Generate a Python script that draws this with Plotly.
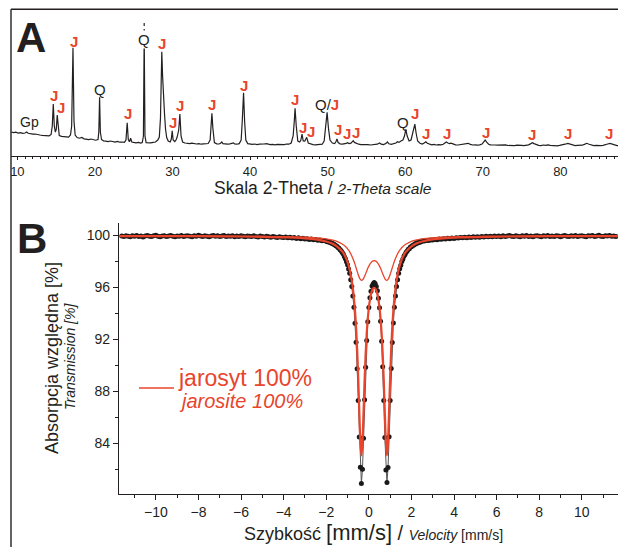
import plotly.graph_objects as go

# The page places the figure 8 px from the top-left corner; reference pixel
# coordinates are converted with that offset.
OX, OY = 8, 8
W, H = 618, 539
RED = "#e8452c"
INK = "#231f20"
FONT = "Liberation Sans, Arial, Helvetica, sans-serif"

# ---------------- Panel A: XRD pattern (2-theta, counts) ----------------
xrd_points = [
    (9.2, 240), (9.5, 234), (9.8, 238), (10.1, 230), (10.4, 233), (10.7, 227), (11.0, 230), (11.2, 240),
    (11.4, 228), (11.7, 222), (12.0, 218), (12.3, 220), (12.6, 212), (12.9, 210), (13.2, 206), (13.5, 204),
    (13.8, 200), (14.1, 202), (14.35, 215), (14.5, 300), (14.63, 520), (14.76, 300), (14.9, 240), (15.02, 270),
    (15.14, 410), (15.26, 260), (15.4, 205), (15.7, 196), (16.0, 192), (16.3, 186), (16.6, 188), (16.85, 210),
    (17.0, 300), (17.17, 1083), (17.3, 350), (17.45, 210), (17.7, 185), (18.0, 178), (18.3, 186), (18.6, 172),
    (18.9, 168), (19.2, 164), (19.5, 170), (19.8, 160), (20.1, 158), (20.4, 165), (20.5, 240), (20.6, 587),
    (20.7, 240), (20.85, 165), (21.1, 152), (21.4, 148), (21.7, 144), (22.0, 150), (22.3, 142), (22.6, 140),
    (22.9, 146), (23.2, 138), (23.5, 140), (23.8, 136), (24.0, 160), (24.16, 333), (24.3, 165), (24.45, 142),
    (24.6, 178), (24.75, 140), (25.0, 136), (25.3, 132), (25.6, 136), (25.9, 130), (26.1, 134), (26.25, 200),
    (26.35, 1230), (26.45, 200), (26.6, 134), (26.9, 130), (27.2, 132), (27.5, 136), (27.8, 140), (28.1, 160),
    (28.3, 190), (28.45, 380), (28.55, 800), (28.62, 1043), (28.72, 800), (28.85, 520), (28.97, 420), (29.1, 270),
    (29.25, 185), (29.45, 150), (29.7, 140), (29.85, 170), (29.96, 253), (30.08, 160), (30.3, 145), (30.45, 160),
    (30.6, 190), (30.8, 260), (30.95, 420), (31.1, 200), (31.3, 140), (31.6, 130), (31.9, 126), (32.2, 124),
    (32.5, 128), (32.8, 122), (33.1, 120), (33.4, 124), (33.7, 118), (34.0, 122), (34.3, 120), (34.6, 125),
    (34.85, 160), (35.0, 300), (35.08, 427), (35.2, 280), (35.4, 135), (35.7, 122), (36.0, 120), (36.2, 128),
    (36.35, 140), (36.5, 124), (36.8, 120), (37.1, 118), (37.4, 122), (37.7, 126), (37.85, 132), (38.0, 120),
    (38.3, 118), (38.6, 124), (38.85, 160), (39.0, 360), (39.16, 633), (39.3, 340), (39.45, 160), (39.7, 124),
    (40.0, 118), (40.3, 116), (40.6, 120), (40.9, 114), (41.2, 118), (41.5, 116), (41.8, 120), (42.1, 124),
    (42.3, 118), (42.6, 114), (42.9, 116), (43.2, 112), (43.5, 116), (43.8, 114), (44.1, 118), (44.4, 114),
    (44.7, 120), (45.0, 118), (45.3, 130), (45.55, 200), (45.7, 350), (45.8, 477), (45.95, 300), (46.15, 150),
    (46.4, 140), (46.55, 160), (46.7, 220), (46.85, 150), (47.05, 148), (47.3, 187), (47.5, 130), (47.8, 118),
    (48.1, 114), (48.4, 112), (48.7, 116), (49.0, 114), (49.3, 118), (49.55, 150), (49.75, 300), (49.93, 437),
    (50.1, 280), (50.3, 160), (50.6, 130), (50.9, 124), (51.05, 140), (51.2, 170), (51.35, 135), (51.6, 122),
    (51.9, 118), (52.2, 120), (52.4, 126), (52.56, 133), (52.75, 124), (53.0, 128), (53.15, 140), (53.3, 153),
    (53.45, 136), (53.7, 124), (54.0, 118), (54.3, 114), (54.6, 116), (54.9, 112), (55.2, 114), (55.5, 110),
    (55.8, 114), (56.1, 112), (56.4, 118), (56.7, 130), (56.9, 118), (57.2, 114), (57.5, 124), (57.7, 140),
    (57.9, 122), (58.2, 116), (58.5, 122), (58.8, 130), (59.0, 143), (59.2, 136), (59.45, 150), (59.7, 160),
    (59.9, 200), (60.08, 267), (60.25, 200), (60.5, 150), (60.75, 160), (60.95, 220), (61.1, 280), (61.24, 320),
    (61.4, 230), (61.6, 150), (61.9, 128), (62.2, 120), (62.45, 130), (62.66, 143), (62.85, 128), (63.1, 118),
    (63.4, 112), (63.7, 116), (64.0, 110), (64.3, 114), (64.6, 112), (64.9, 118), (65.1, 130), (65.3, 140),
    (65.5, 130), (65.7, 124), (65.9, 128), (66.2, 116), (66.5, 112), (66.8, 110), (67.1, 114), (67.4, 112),
    (67.7, 116), (68.1, 127), (68.4, 116), (68.7, 110), (69.0, 112), (69.3, 108), (69.6, 112), (69.9, 120),
    (70.1, 140), (70.3, 160), (70.5, 138), (70.75, 118), (71.0, 112), (71.3, 114), (71.6, 110), (71.9, 108),
    (72.2, 110), (72.5, 106), (72.9, 112), (73.2, 106), (73.5, 104), (73.8, 106), (74.1, 104), (74.4, 108),
    (74.7, 104), (75.0, 106), (75.3, 104), (75.6, 108), (75.9, 112), (76.2, 124), (76.4, 133), (76.6, 124),
    (76.9, 112), (77.2, 106), (77.5, 104), (77.8, 110), (78.1, 106), (78.4, 112), (78.7, 106), (79.0, 104),
    (79.3, 106), (79.6, 102), (79.9, 106), (80.3, 110), (80.6, 118), (80.96, 127), (81.3, 118), (81.6, 108),
    (81.9, 104), (82.2, 106), (82.5, 104), (82.8, 108), (83.1, 116), (83.4, 127), (83.7, 118), (84.0, 108),
    (84.3, 104), (84.6, 106), (84.9, 102), (85.2, 104), (85.5, 106), (85.8, 110), (86.1, 120), (86.4, 127),
    (86.7, 118), (87.0, 108), (87.3, 104), (87.6, 106), (87.9, 102), (88.2, 104), (88.5, 103),
]
xrd_two_theta = [p[0] for p in xrd_points]
xrd_counts = [p[1] for p in xrd_points]

# quartz main reflection runs off scale (dotted continuation)
q_break_two_theta = [26.35, 26.35]
q_break_counts = [1240, 1360]

# phase labels (J = jarosite, Q = quartz, Gp = gypsum)
j_two_theta = [14.72, 15.62, 17.29, 24.25, 28.63, 30.05, 30.95, 35.08, 39.2, 45.77, 46.8, 47.84,
               51.28, 52.47, 53.63, 61.24, 62.66, 65.32, 70.39, 76.31, 80.95, 86.24]
j_counts = [610, 490, 1150, 430, 1130, 340, 510, 520, 710, 570, 290, 250,
            270, 230, 240, 430, 230, 230, 240, 220, 230, 230]
other_text = ["Gp", "Q", "Q", "Q/<b><span style='color:%s'>J</span></b>" % RED, "Q"]
other_two_theta = [11.62, 20.64, 26.31, 49.9, 59.69]
other_counts = [340, 670, 1170, 520, 340]

# ---------------- Panel B: Mössbauer spectrum ----------------
ms_T_left = [
    99.93, 99.88, 99.95, 99.90, 99.86, 99.94, 99.91, 99.97, 99.89, 99.92,
    99.85, 99.93, 99.96, 99.90, 99.88, 99.94, 99.99, 99.91, 99.87, 99.93,
    99.95, 99.89, 99.92, 99.97, 99.90, 99.86, 99.93, 99.91, 99.96, 99.88,
    99.92, 99.95, 99.90, 99.87, 99.94, 99.91, 99.98, 99.92, 99.88, 99.95,
    99.91, 99.86, 99.93, 99.97, 99.90, 99.94, 99.89, 99.92, 99.96, 99.88,
    99.93, 99.90, 99.95, 99.87, 99.92, 99.89, 99.94, 99.90, 99.86, 99.93,
    99.91, 99.88, 99.94, 99.89, 99.85, 99.92, 99.88, 99.84, 99.90, 99.86,
    99.83, 99.89, 99.85, 99.81, 99.87, 99.83, 99.80, 99.85, 99.79, 99.82,
    99.77, 99.80, 99.74, 99.78, 99.72, 99.75, 99.70, 99.72, 99.66, 99.69,
    99.64, 99.65, 99.60, 99.62, 99.56, 99.57,
]
ms_T_mid = [
    99.52, 99.49, 99.48, 99.44, 99.42, 99.37, 99.34, 99.28, 99.25, 99.17,
    99.13, 99.04, 98.98, 98.87, 98.79, 98.65, 98.53, 98.35, 98.18, 97.94,
    97.71, 97.38, 97.05, 96.56, 96.04, 95.30, 94.44, 93.22, 91.75, 89.72,
    87.28, 84.47, 82.13, 80.88, 81.98, 84.37, 87.33, 89.82, 91.88, 93.32,
    94.42, 95.17, 95.68, 96.07, 96.24, 96.34, 96.26, 96.03, 95.72, 95.13,
    94.41, 93.37, 91.83, 89.87, 87.27, 84.42, 81.93, 80.97, 82.12, 84.48,
    87.27, 89.73, 91.74, 93.23, 94.44, 95.30, 96.04, 96.56, 97.05, 97.41,
    97.68, 97.97, 98.15, 98.38, 98.50, 98.68, 98.76, 98.90, 98.95, 99.07,
    99.10, 99.20, 99.22, 99.31, 99.31, 99.40, 99.39, 99.47, 99.45, 99.52,
    99.51,
]
ms_T_right = [
    99.54, 99.58, 99.57, 99.62, 99.61, 99.66, 99.64, 99.69, 99.67, 99.72,
    99.70, 99.75, 99.72, 99.77, 99.74, 99.79, 99.76, 99.81, 99.78, 99.83,
    99.79, 99.84, 99.80, 99.86, 99.82, 99.87, 99.83, 99.89, 99.85, 99.90,
    99.86, 99.91, 99.87, 99.93, 99.88, 99.92, 99.86, 99.94, 99.89, 99.93,
    99.97, 99.90, 99.88, 99.95, 99.91, 99.87, 99.94, 99.90, 99.96, 99.89,
    99.93, 99.86, 99.92, 99.95, 99.90, 99.87, 99.94, 99.91, 99.97, 99.89,
    99.93, 99.88, 99.95, 99.92, 99.86, 99.93, 99.96, 99.90, 99.88, 99.94,
    99.91, 99.97, 99.89, 99.93, 99.95, 99.90, 99.87, 99.94, 99.92, 99.96,
    99.89, 99.93, 99.98, 99.91, 99.88, 99.94, 99.92, 99.96, 99.90, 99.93,
    99.89,
]
ms_v_left = [round(-11.6 + 0.1 * i, 2) for i in range(len(ms_T_left))]
ms_v_mid = [round(-2.0 + 0.05 * i, 2) for i in range(len(ms_T_mid))]
ms_v_right = [round(2.6 + 0.1 * i, 2) for i in range(len(ms_T_right))]
ms_velocity = ms_v_left + ms_v_mid + ms_v_right
ms_transmission = ms_T_left + ms_T_mid + ms_T_right

fit_velocity = ([-11.7, -9, -7, -5, -4, -3.5, -3, -2.5, -2.0, -1.75, -1.5]
                + [round(-1.25 + 0.05 * i, 2) for i in range(61)]
                + [2.0, 2.25, 2.5, 3.0, 3.5, 4.0, 4.5, 5.5, 7.5, 9.5, 11.7])
fit_total = [
    99.92, 99.91, 99.90, 99.86, 99.82, 99.79, 99.74, 99.66, 99.50, 99.36, 99.13,
    98.73, 98.62, 98.48, 98.32, 98.14, 97.92, 97.66, 97.35, 96.96, 96.49,
    95.90, 95.15, 94.18, 92.92, 91.25, 89.10, 86.53, 84.12, 83.04, 84.03,
    86.34, 88.82, 90.87, 92.43, 93.57, 94.41, 95.01, 95.44, 95.72, 95.88,
    95.93, 95.88, 95.72, 95.44, 95.01, 94.41, 93.57, 92.43, 90.87, 88.82,
    86.34, 84.03, 83.04, 84.12, 86.53, 89.10, 91.25, 92.92, 94.18, 95.15,
    95.90, 96.49, 96.96, 97.35, 97.66, 97.92, 98.14, 98.32, 98.48, 98.62,
    98.73,
    99.13, 99.36, 99.50, 99.66, 99.74, 99.79, 99.82, 99.86, 99.90, 99.91, 99.92,
]
fit_doublet2 = [
    99.92, 99.92, 99.91, 99.89, 99.87, 99.86, 99.83, 99.78, 99.70, 99.62, 99.51,
    99.31, 99.25, 99.19, 99.12, 99.04, 98.94, 98.83, 98.70, 98.56, 98.39,
    98.20, 97.98, 97.74, 97.48, 97.22, 96.96, 96.74, 96.59, 96.52, 96.54,
    96.65, 96.82, 97.02, 97.23, 97.44, 97.61, 97.76, 97.88, 97.96, 98.01,
    98.02, 98.01, 97.96, 97.88, 97.76, 97.61, 97.44, 97.23, 97.02, 96.82,
    96.65, 96.54, 96.52, 96.59, 96.74, 96.96, 97.22, 97.48, 97.74, 97.98,
    98.20, 98.39, 98.56, 98.70, 98.83, 98.94, 99.04, 99.12, 99.19, 99.25,
    99.31,
    99.51, 99.62, 99.70, 99.78, 99.83, 99.86, 99.87, 99.89, 99.91, 99.92, 99.92,
]


def fx(x):
    return (x - OX) / W


def fy(y):
    return 1 - (y - OY) / H


fig = go.Figure()

# --- A traces
fig.add_trace(go.Scatter(x=xrd_two_theta, y=xrd_counts, mode="lines",
                         line=dict(color=INK, width=1.2), xaxis="x", yaxis="y",
                         hoverinfo="skip"))
fig.add_trace(go.Scatter(x=q_break_two_theta, y=q_break_counts, mode="lines",
                         line=dict(color=INK, width=1.2, dash="dot"), xaxis="x", yaxis="y",
                         hoverinfo="skip"))

# --- B traces
fig.add_trace(go.Scatter(x=ms_velocity, y=ms_transmission, mode="lines+markers",
                         line=dict(color="#555555", width=1),
                         marker=dict(color="#1a1a1a", size=5),
                         xaxis="x2", yaxis="y2", hoverinfo="skip"))
fig.add_trace(go.Scatter(x=fit_velocity, y=fit_doublet2, mode="lines",
                         line=dict(color=RED, width=1.3, shape="spline", smoothing=0.6),
                         xaxis="x2", yaxis="y2", hoverinfo="skip"))
fig.add_trace(go.Scatter(x=fit_velocity, y=fit_total, mode="lines",
                         line=dict(color=RED, width=2.2, shape="spline", smoothing=0.6),
                         xaxis="x2", yaxis="y2", hoverinfo="skip"))

annotations = []
for t, c in zip(j_two_theta, j_counts):
    annotations.append(dict(x=t, y=c, xref="x", yref="y", text="<b>J</b>", showarrow=False,
                            xanchor="center", yanchor="middle",
                            font=dict(size=15, color=RED, family=FONT)))
for txt, t, c in zip(other_text, other_two_theta, other_counts):
    annotations.append(dict(x=t, y=c, xref="x", yref="y", text=txt, showarrow=False,
                            xanchor="center", yanchor="middle",
                            font=dict(size=15 if txt != "Gp" else 14, color=INK, family=FONT),
                            bgcolor="white" if t == 26.31 else None, borderpad=0))


def label(xp, yp, text, size, color=INK, xanchor="center", angle=0):
    return dict(x=fx(xp), y=fy(yp), xref="paper", yref="paper", text=text, showarrow=False,
                xanchor=xanchor, yanchor="middle", textangle=angle,
                font=dict(size=size, color=color, family=FONT))


annotations += [
    label(31, 37, "<b>A</b>", 42),
    label(31.5, 238, "<b>B</b>", 42),
    label(323, 188, "Skala 2-Theta / <i><span style='font-size:15.5px'>2-Theta scale</span></i>", 17.5),
    label(373, 532,
          "<span style='font-size:18px'>Szybkość </span><span style='font-size:22px'>[mm/s]</span>"
          "<span style='font-size:20px'> / </span><i><span style='font-size:14px'>Velocity</span></i>"
          "<span style='font-size:14px'> [mm/s]</span>", 18),
    label(52, 358, "Absorpcja względna [%]", 18, angle=-90),
    label(70, 357, "<i>Transmission [%]</i>", 14, angle=-90),
    label(176, 378, "jarosyt 100%", 23, color=RED, xanchor="left"),
    label(177, 401, "<i>jarosite 100%</i>", 20, color=RED, xanchor="left"),
]

shapes = [
    dict(type="line", xref="paper", yref="paper", x0=fx(11), x1=1, y0=fy(9.3), y1=fy(9.3),
         line=dict(color=INK, width=1.4)),
    dict(type="line", xref="paper", yref="paper", x0=fx(11), x1=fx(11), y0=0, y1=fy(9.3),
         line=dict(color=INK, width=1.4)),
    dict(type="line", xref="paper", yref="paper", x0=fx(139), x1=fx(174), y0=fy(388), y1=fy(388),
         line=dict(color=RED, width=1.5)),
]

tickfont = dict(size=13, color=INK, family=FONT)
tickfontB = dict(size=14, color=INK, family=FONT)

fig.update_layout(
    width=W, height=H, margin=dict(l=0, r=0, t=0, b=0),
    paper_bgcolor="white", plot_bgcolor="rgba(0,0,0,0)", showlegend=False,
    font=dict(family=FONT, color=INK),
    xaxis=dict(domain=[fx(11), 1], range=[9.18, 88.46], anchor="y", showline=True, linecolor=INK,
               linewidth=1.3, ticks="outside", ticklen=3, tickcolor=INK, tickwidth=1, dtick=10, tick0=0,
               tickfont=tickfont, showgrid=False, zeroline=False,
               minor=dict(dtick=1, ticks="outside", ticklen=2, tickcolor=INK, tickwidth=1, showgrid=False)),
    yaxis=dict(domain=[fy(156), fy(9.3)], range=[0, 1468], anchor="x", visible=False),
    xaxis2=dict(domain=[fx(119), fx(618.7)], range=[-11.73, 11.73], anchor="y2", showline=True,
                linecolor=INK, linewidth=1.3, ticks="outside", ticklen=5, tickcolor=INK, tickwidth=1,
                dtick=2, tick0=0, tickfont=tickfontB, showgrid=False, zeroline=False,
                minor=dict(dtick=1, ticks="outside", ticklen=3, tickcolor=INK, tickwidth=1, showgrid=False)),
    xaxis3=dict(overlaying="x2", anchor="y2", side="bottom", range=[-11.73, 11.73], showline=False,
                ticks="inside", ticklen=5, tickcolor=INK, tickwidth=1, dtick=2, tick0=0,
                showticklabels=False, showgrid=False, zeroline=False,
                minor=dict(dtick=1, ticks="inside", ticklen=3, tickcolor=INK, tickwidth=1, showgrid=False)),
    xaxis4=dict(overlaying="x2", anchor="y2", side="top", range=[-11.73, 11.73], showline=True,
                linecolor=INK, linewidth=1.3, ticks="inside", ticklen=5, tickcolor=INK, tickwidth=1,
                dtick=2, tick0=0, showticklabels=False, showgrid=False, zeroline=False,
                minor=dict(dtick=1, ticks="inside", ticklen=3, tickcolor=INK, tickwidth=1, showgrid=False)),
    yaxis2=dict(domain=[fy(494), fy(223.3)], range=[80.08, 100.9], anchor="x2", showline=True,
                mirror=True, linecolor=INK, linewidth=1.3, ticks="outside", ticklen=5, tickcolor=INK,
                tickwidth=1, dtick=4, tick0=0, tickfont=tickfontB, showgrid=False, zeroline=False,
                minor=dict(dtick=2, ticks="outside", ticklen=3, tickcolor=INK, tickwidth=1, showgrid=False)),
    annotations=annotations,
    shapes=shapes,
)

fig.write_html("out.html")
